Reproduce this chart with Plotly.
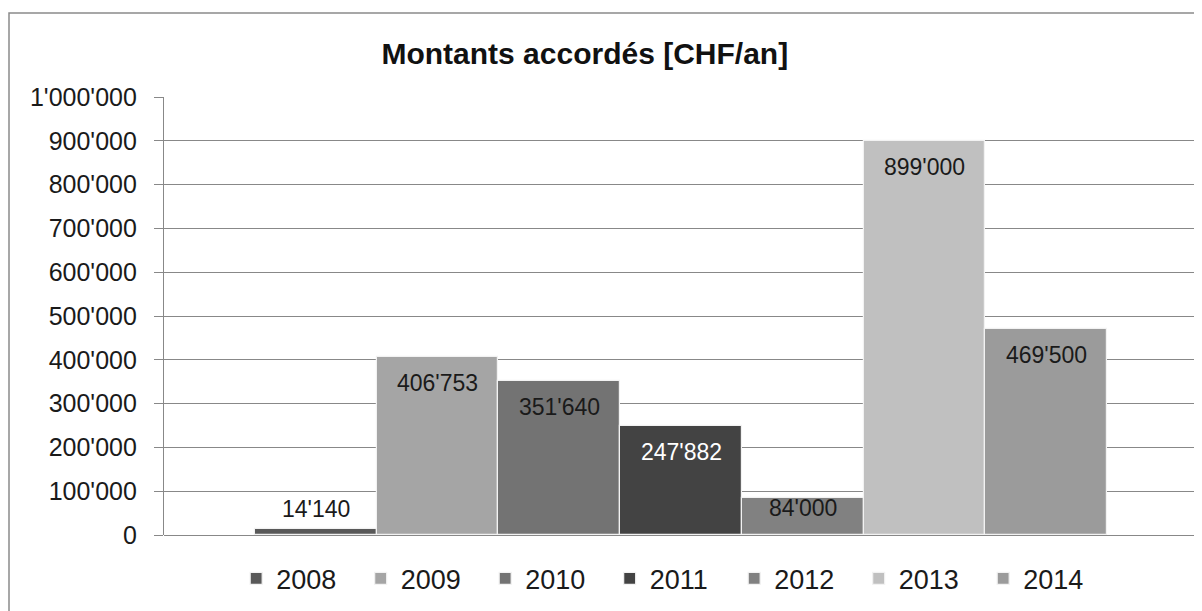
import plotly.graph_objects as go

years = ["2008", "2009", "2010", "2011", "2012", "2013", "2014"]
amounts = [14140, 406753, 351640, 247882, 84000, 899000, 469500]
colors = ["#595959", "#a5a5a5", "#737373", "#434343", "#818181", "#c0c0c0", "#9b9b9b"]
label_colors = ["#1a1a1a", "#1a1a1a", "#1a1a1a", "#ffffff", "#1a1a1a", "#1a1a1a", "#1a1a1a"]
y_ticks = [0, 100000, 200000, 300000, 400000, 500000, 600000, 700000, 800000, 900000, 1000000]

FONT = "Liberation Sans, Arial, sans-serif"

fig = go.Figure()
for yr, val, col in zip(years, amounts, colors):
    fig.add_trace(go.Bar(
        x=[yr], y=[val], name=yr,
        marker=dict(color=col, line=dict(color="#f2f2f2", width=1.2)),
        hoverinfo="skip",
    ))

annotations = []
for i, (yr, val, lc) in enumerate(zip(years, amounts, label_colors)):
    if val < 50000:
        shift = 20      # label sits above a very short bar
    elif val < 150000:
        shift = -10     # short bar: label just fits inside
    else:
        shift = -26     # inside end
    annotations.append(dict(
        x=i, y=val, xref="x", yref="y",
        text=f"{val:,}".replace(",", "'"),
        showarrow=False, yanchor="middle", xanchor="center",
        yshift=shift,
        font=dict(family=FONT, size=23, color=lc),
    ))

# the page body has an 8px margin: figure is sized/offset to compensate
fig.update_layout(
    width=1194, height=603,
    margin=dict(l=156, r=4, t=89, b=76),
    paper_bgcolor="white", plot_bgcolor="white",
    barmode="overlay", bargap=0,
    separators=".'",
    font=dict(family=FONT, color="#1a1a1a"),
    title=dict(text="<b>Montants accordés [CHF/an]</b>", x=0.407, xref="paper", xanchor="center",
               y=0.925, yref="container", yanchor="middle",
               font=dict(family=FONT, size=30, color="#111111")),
    xaxis=dict(type="category", range=[-1.248, 7.248], showticklabels=False, showgrid=False,
               zeroline=False, showline=False, ticks=""),
    yaxis=dict(range=[0, 1000000], tickvals=y_ticks, tickformat=",d",
               showgrid=True, gridcolor="#888888", gridwidth=1.3,
               zeroline=True, zerolinecolor="#888888", zerolinewidth=1.3,
               showline=True, linecolor="#888888", linewidth=1.3,
               ticks="outside", ticklen=9, tickcolor="#888888", tickwidth=1.3,
               ticklabelstandoff=12,
               tickfont=dict(family=FONT, size=25, color="#1a1a1a")),
    showlegend=True,
    legend=dict(orientation="h", x=0.0698, xanchor="left", y=-0.1, yanchor="middle",
                entrywidth=79.5, entrywidthmode="pixels", traceorder="normal",
                font=dict(family=FONT, size=27, color="#1a1a1a"),
                bgcolor="rgba(0,0,0,0)"),
    annotations=annotations,
    shapes=[dict(type="rect", xref="paper", yref="paper",
                 x0=-0.1499, x1=1.03, y0=-0.2, y1=1.1918,
                 line=dict(color="#8a8a8a", width=1.5), layer="above")],
)

fig.write_html("out.html")
